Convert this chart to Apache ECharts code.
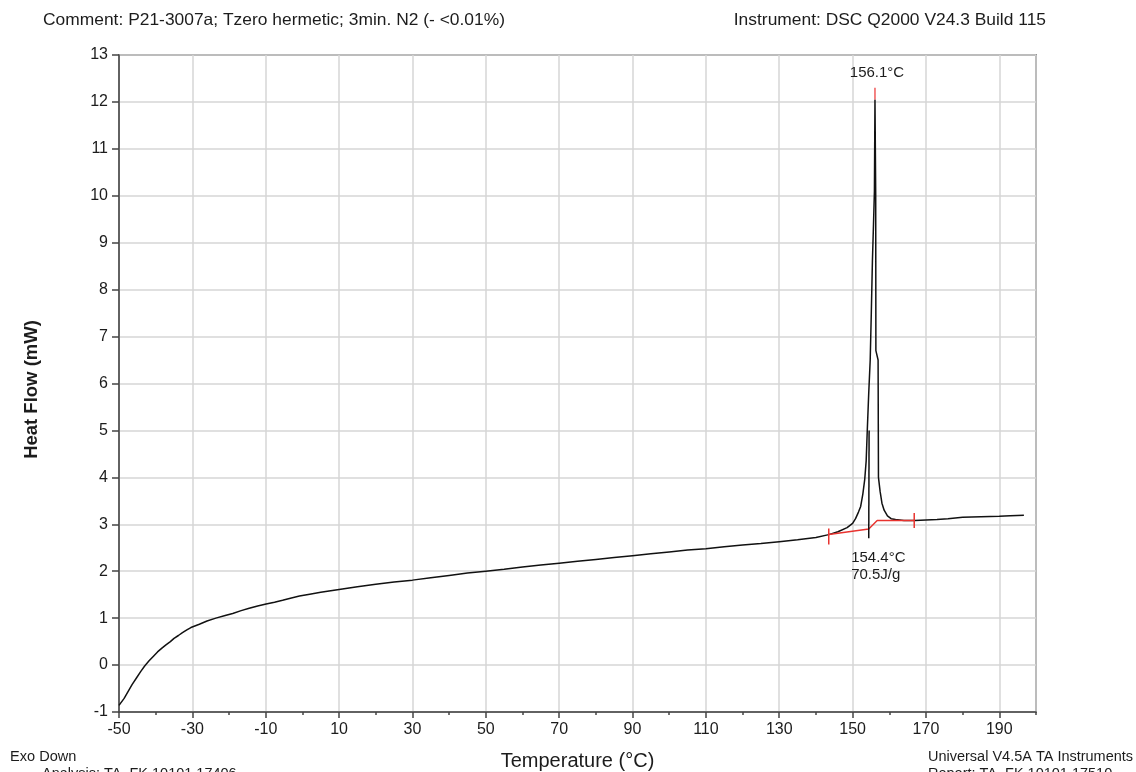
<!DOCTYPE html>
<html>
<head>
<meta charset="utf-8">
<script src="https://cdn.jsdelivr.net/npm/echarts@6/dist/echarts.min.js"></script>
<style>
  html, body { margin: 0; padding: 0; background: #fff; }
  #chart { width: 1136px; height: 772px; }
</style>
</head>
<body>
<div id="chart"></div>
<script>
// DSC heat-flow trace (temperature in °C, heat flow in mW)
const temperature = [
  -50.0, -49.6, -48.6, -47.5, -46.4, -45.2, -44.1, -43.0, -41.8, -40.6,
  -39.5, -38.3, -37.2, -36.0, -35.0, -33.8, -32.7, -31.5, -30.4, -28.1,
  -26.0, -23.6, -21.3, -19.0, -16.7, -14.5, -12.2, -9.9, -7.6, -5.4,
  -3.0, -0.8, 2, 5, 10, 15, 20, 25, 30, 35,
  40, 45, 50, 55, 60, 65, 70, 75, 80, 85,
  90, 95, 100, 105, 110, 115, 120, 125, 130, 135,
  140, 143.5, 146.0, 148.5, 150.0, 150.8, 151.6, 152.2, 152.8, 153.3,
  153.7, 154.0, 154.4, 154.8, 155.1, 155.4, 155.7, 155.95, 156.1, 156.3,
  156.35, 156.95, 157.05, 157.5, 158.0, 158.6, 159.5, 160.5, 161.7, 164.0,
  167.0, 170.0, 173.0, 176.0, 180.0, 185.0, 190.0, 193.0, 196.7
];
const heatFlow = [
  -0.86, -0.83, -0.71, -0.56, -0.41, -0.27, -0.14, -0.02, 0.09, 0.19,
  0.28, 0.36, 0.43, 0.50, 0.57, 0.63, 0.69, 0.75, 0.80, 0.87,
  0.94, 1.00, 1.05, 1.10, 1.16, 1.21, 1.26, 1.30, 1.34, 1.38,
  1.43, 1.47, 1.51, 1.55, 1.61, 1.67, 1.72, 1.77, 1.81, 1.86,
  1.91, 1.96, 2.00, 2.04, 2.09, 2.13, 2.17, 2.21, 2.25, 2.29,
  2.33, 2.37, 2.41, 2.45, 2.48, 2.52, 2.56, 2.59, 2.63, 2.67,
  2.72, 2.78, 2.84, 2.93, 3.02, 3.12, 3.26, 3.38, 3.65, 3.95,
  4.35, 5.00, 5.80, 6.50, 7.50, 8.60, 9.40, 10.10, 12.05, 10.00,
  6.70, 6.50, 4.00, 3.70, 3.45, 3.30, 3.18, 3.12, 3.10, 3.08,
  3.08, 3.09, 3.10, 3.12, 3.15, 3.16, 3.17, 3.18, 3.19
];

// Integration baseline under the melting peak
const baselineT = [143.5, 154.4, 156.7, 166.8];
const baselineHF = [2.78, 2.90, 3.08, 3.08];

// Extrapolated onset (leading-edge tangent)
const onsetT = [154.4, 154.5];
const onsetHF = [2.70, 5.00];

// Integration limits and peak marker
const limitStartT = [143.5, 143.5];
const limitStartHF = [2.57, 2.91];
const limitEndT = [166.8, 166.8];
const limitEndHF = [2.92, 3.24];
const peakMarkT = [156.1, 156.1];
const peakMarkHF = [12.05, 12.30];

// Analysis results
const peakTemp = 156.1;
const onsetTemp = 154.4;
const enthalpy = 70.5;

// Axis settings
const T_MIN = -50, T_MAX = 200, T_STEP = 20;
const HF_MIN = -1, HF_MAX = 13, HF_STEP = 1;

const FONT = '"Liberation Sans", Arial, sans-serif';
const INK = '#1c1c1c';

// x is plotted as (T - T_MIN) so the labelled ticks fall on -50, -30, ... 190
const toXY = (ts, hs) => ts.map((t, i) => [t - T_MIN, hs[i]]);

const chart = echarts.init(document.getElementById('chart'), null, { renderer: 'canvas' });

const lineSeries = (name, ts, hs, color, z) => ({
  name, type: 'line', data: toXY(ts, hs), showSymbol: false, symbol: 'none',
  animation: false, silent: true, z,
  lineStyle: { color, width: 1.5 }
});

chart.setOption({
  backgroundColor: '#ffffff',
  animation: false,
  grid: {
    left: 119, right: 100, top: 55, bottom: 60,
    outerBoundsMode: 'none', containLabel: false,
    show: true, borderColor: '#444', borderWidth: 1.5, backgroundColor: 'transparent'
  },
  xAxis: [
    {
      type: 'value', position: 'bottom',
      min: 0, max: T_MAX - T_MIN, interval: T_STEP,
      axisLine: { show: true, onZero: false, lineStyle: { color: '#444', width: 1.5 } },
      axisTick: { show: true, length: 6, lineStyle: { color: '#444', width: 1.5 } },
      axisLabel: {
        formatter: v => String(v + T_MIN), showMaxLabel: false,
        fontSize: 16, color: INK, fontFamily: FONT, margin: 10
      },
      splitLine: { show: true, lineStyle: { color: '#d6d6d6', width: 1.5 } },
      name: 'Temperature (°C)', nameLocation: 'middle', nameGap: 39,
      nameTextStyle: { fontSize: 20, color: INK, fontFamily: FONT }
    },
    {
      // half-step minor ticks
      type: 'value', position: 'bottom',
      min: 0, max: T_MAX - T_MIN, interval: T_STEP / 2,
      axisLine: { show: false, onZero: false },
      axisTick: { show: true, length: 3, lineStyle: { color: '#444', width: 1.5 } },
      axisLabel: { show: false },
      splitLine: { show: false }
    }
  ],
  yAxis: {
    type: 'value', min: HF_MIN, max: HF_MAX, interval: HF_STEP,
    axisLine: { show: true, onZero: false, lineStyle: { color: '#444', width: 1.5 } },
    axisTick: { show: true, length: 7, lineStyle: { color: '#444', width: 1.5 } },
    axisLabel: { fontSize: 16, color: INK, fontFamily: FONT, margin: 11 },
    splitLine: { show: true, lineStyle: { color: '#d6d6d6', width: 1.5 } },
    name: 'Heat Flow (mW)', nameLocation: 'middle', nameGap: 78,
    nameTextStyle: { fontSize: 18.5, fontWeight: 'bold', color: INK, fontFamily: FONT, padding: [0, 12, 0, 0] }
  },
  series: [
    lineSeries('Heat Flow', temperature, heatFlow, '#111111', 5),
    lineSeries('Baseline', baselineT, baselineHF, '#e8332f', 6),
    lineSeries('Onset', onsetT, onsetHF, '#111111', 6),
    lineSeries('Start', limitStartT, limitStartHF, '#e8332f', 7),
    lineSeries('End', limitEndT, limitEndHF, '#e8332f', 7),
    lineSeries('Peak', peakMarkT, peakMarkHF, '#f05a5a', 7)
  ]
});

// Result annotations placed in data coordinates
const px = (t, h) => chart.convertToPixel({ xAxisIndex: 0, yAxisIndex: 0 }, [t - T_MIN, h]);
const pPeak = px(peakTemp, 12.62);
const pOnset = px(149.6, 2.28);
const pEnth = px(149.6, 1.92);

const txt = (x, y, text, opts, sx) => ({
  type: 'text', x, y, silent: true, scaleX: sx || 1,
  style: Object.assign({
    text, fill: INK, fontSize: 15, fontFamily: FONT,
    textAlign: 'left', textVerticalAlign: 'middle'
  }, opts || {})
});

chart.setOption({
  graphic: [
    txt(pPeak[0] + 2, pPeak[1], peakTemp.toFixed(1) + '°C', { textAlign: 'center' }),
    txt(pOnset[0], pOnset[1], onsetTemp.toFixed(1) + '°C'),
    txt(pEnth[0], pEnth[1], enthalpy.toFixed(1) + 'J/g'),
    txt(43, 20, 'Comment: P21-3007a; Tzero hermetic; 3min. N2 (- <0.01%)', { fontSize: 16.5 }, 1.055),
    txt(1046, 20, 'Instrument: DSC Q2000 V24.3 Build 115', { fontSize: 16.5, textAlign: 'right' }, 1.055),
    txt(10, 757, 'Exo Down', { fontSize: 14 }, 1.04),
    txt(928, 757, 'Universal V4.5A TA Instruments', { fontSize: 14 }, 1.035),
    txt(42, 774, 'Analysis: TA_FK 10101 17406', { fontSize: 14 }, 1.035),
    txt(928, 774, 'Report: TA_FK 10101 17510', { fontSize: 14 }, 1.035)
  ]
});
</script>
</body>
</html>
